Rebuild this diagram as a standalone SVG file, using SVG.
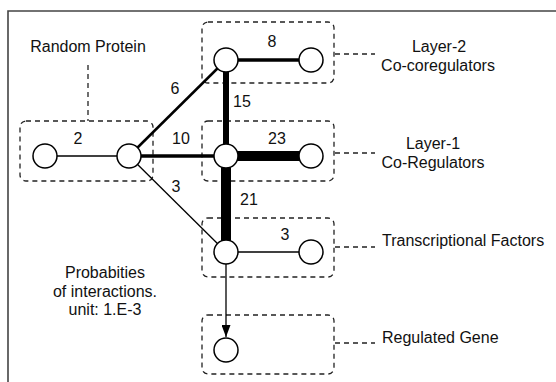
<svg xmlns="http://www.w3.org/2000/svg" width="556" height="382" viewBox="0 0 556 382">
<style>
  text { font-family: "Liberation Sans", Arial, sans-serif; font-size: 16px; fill: #111; }
  .mid { text-anchor: middle; }
  .box { fill: none; stroke: #222; stroke-width: 1.3; stroke-dasharray: 5 4; }
  .lead { fill: none; stroke: #222; stroke-width: 1.3; stroke-dasharray: 5 4; }
  .node { fill: #fff; stroke: #000; stroke-width: 1.5; }
  .edge { stroke: #000; fill: none; }
  .frame { stroke: #444; stroke-width: 1.6; fill: none; }
</style>
<defs>
  <marker id="arrow" markerUnits="userSpaceOnUse" markerWidth="12" markerHeight="9" refX="12" refY="4.5" orient="auto" viewBox="0 0 12 9">
    <path d="M0,0 L12,4.5 L0,9 Z" fill="#000"/>
  </marker>
</defs>
<rect width="556" height="382" fill="#fff"/>
<path class="frame" d="M8,382 L8,11 L556,11"/>

<g id="groups">
  <g id="box-random"><rect class="box" x="20" y="121" width="133" height="60" rx="6"/></g>
  <g id="box-layer2"><rect class="box" x="202" y="22" width="132" height="61" rx="6"/></g>
  <g id="box-layer1"><rect class="box" x="202" y="121" width="132" height="60" rx="6"/></g>
  <g id="box-tf"><rect class="box" x="202" y="218" width="132" height="59" rx="6"/></g>
  <g id="box-gene"><rect class="box" x="202" y="315" width="132" height="59" rx="6"/></g>
</g>

<g id="connectors">
  <line class="lead" x1="88" y1="65" x2="88" y2="121"/>
  <line class="lead" x1="335" y1="54" x2="375" y2="54"/>
  <line class="lead" x1="335" y1="153" x2="375" y2="153"/>
  <line class="lead" x1="335" y1="247" x2="375" y2="247"/>
  <line class="lead" x1="335" y1="343" x2="375" y2="343"/>
  <line class="edge" x1="45" y1="156" x2="129" y2="156" stroke-width="1.5"/>
  <line class="edge" x1="129" y1="156" x2="226" y2="60" stroke-width="2.5"/>
  <line class="edge" x1="129" y1="156" x2="226" y2="156" stroke-width="3.5"/>
  <line class="edge" x1="129" y1="156" x2="226" y2="252" stroke-width="1.3"/>
  <line class="edge" x1="226" y1="60" x2="311" y2="60" stroke-width="3.5"/>
  <line class="edge" x1="226" y1="60" x2="226" y2="156" stroke-width="6"/>
  <line class="edge" x1="226" y1="156" x2="311" y2="156" stroke-width="10"/>
  <line class="edge" x1="226" y1="156" x2="226" y2="252" stroke-width="10"/>
  <line class="edge" x1="226" y1="252" x2="311" y2="252" stroke-width="1.3"/>
  <line class="edge" x1="226" y1="264" x2="226" y2="337" stroke-width="1.3" marker-end="url(#arrow)"/>
</g>

<g id="n-rp1"><circle class="node" cx="45" cy="156" r="12"/></g>
<g id="n-rp2"><circle class="node" cx="129" cy="156" r="12"/></g>
<g id="n-l2a"><circle class="node" cx="226" cy="60" r="12"/></g>
<g id="n-l2b"><circle class="node" cx="311" cy="60" r="12"/></g>
<g id="n-l1a"><circle class="node" cx="226" cy="156" r="12"/></g>
<g id="n-l1b"><circle class="node" cx="311" cy="156" r="12"/></g>
<g id="n-tfa"><circle class="node" cx="226" cy="252" r="12"/></g>
<g id="n-tfb"><circle class="node" cx="311" cy="252" r="12"/></g>
<g id="n-gene"><circle class="node" cx="226" cy="350" r="12"/></g>

<g id="edge-labels">
  <text class="mid" x="78" y="144">2</text>
  <text class="mid" x="175" y="94">6</text>
  <text class="mid" x="181" y="144">10</text>
  <text class="mid" x="176" y="192">3</text>
  <text class="mid" x="272" y="47">8</text>
  <text class="mid" x="242" y="107">15</text>
  <text class="mid" x="277" y="144">23</text>
  <text class="mid" x="249" y="205">21</text>
  <text class="mid" x="285" y="240">3</text>
</g>

<g id="labels">
  <text class="mid" x="88" y="52">Random Protein</text>
  <text class="mid" x="439" y="52">Layer-2</text>
  <text class="mid" x="438" y="71">Co-coregulators</text>
  <text class="mid" x="433" y="149">Layer-1</text>
  <text class="mid" x="433" y="168">Co-Regulators</text>
  <text x="382" y="246">Transcriptional Factors</text>
  <text x="382" y="343">Regulated Gene</text>
  <text class="mid" x="105" y="278">Probabities</text>
  <text class="mid" x="105" y="297">of interactions.</text>
  <text class="mid" x="105" y="315">unit: 1.E-3</text>
</g>
</svg>
